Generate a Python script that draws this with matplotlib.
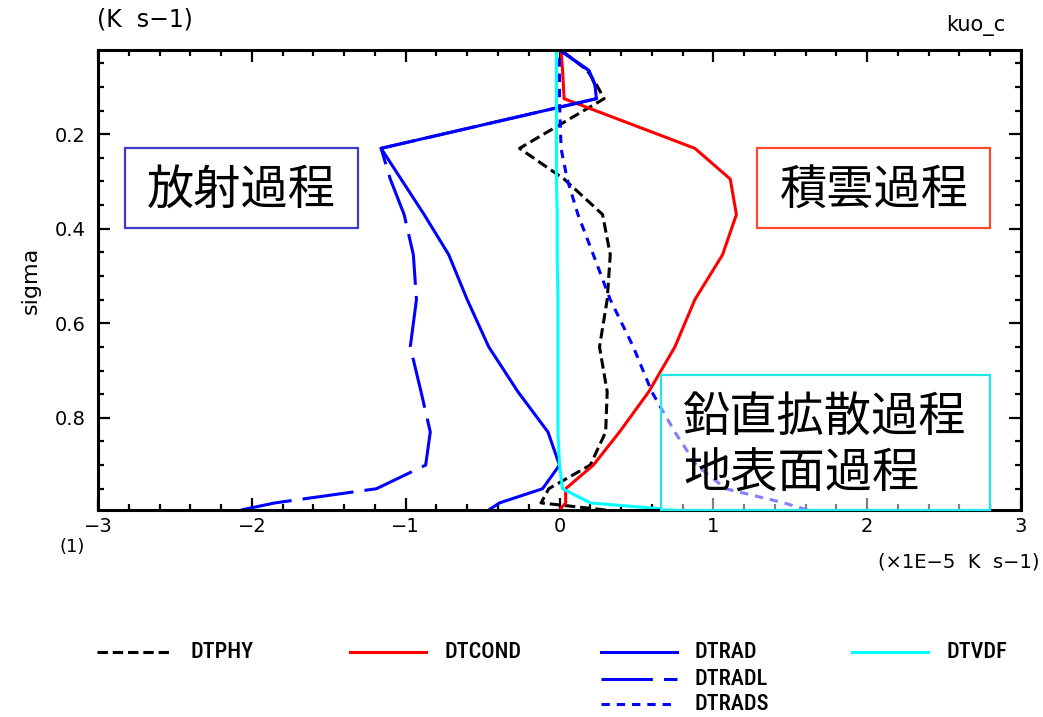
import matplotlib

matplotlib.use("Agg")

import matplotlib.pyplot as plt
from matplotlib.lines import Line2D
from matplotlib.patches import Rectangle
from matplotlib.ticker import MultipleLocator

# sigma levels, surface to top
sigma = [0.995, 0.98, 0.95, 0.90, 0.83, 0.745, 0.65, 0.55, 0.455, 0.37,
         0.295, 0.23, 0.125, 0.095, 0.065, 0.022]

# heating rates (x1E-5 K s-1)
dtphy = [0.30, -0.12, -0.07, 0.20, 0.30, 0.31, 0.26, 0.31, 0.33, 0.28,
         0.03, -0.26, 0.29, 0.24, 0.18, 0.01]
dtcond = [0.00, 0.04, 0.04, 0.22, 0.39, 0.58, 0.75, 0.88, 1.06, 1.15,
          1.11, 0.88, 0.03, 0.025, 0.02, 0.01]
dtrad = [-0.46, -0.39, -0.11, 0.00, -0.075, -0.27, -0.46, -0.60, -0.72, -0.88,
         -1.03, -1.16, 0.24, 0.23, 0.19, 0.00]
dtvdf = [0.75, 0.20, 0.02, 0.00, -0.01, -0.01, -0.01, -0.01, -0.015, -0.015,
         -0.02, -0.02, -0.02, -0.02, -0.02, -0.02]
dtradl = [-2.07, -1.85, -1.19, -0.87, -0.84, -0.90, -0.97, -0.93, -0.95, -1.01,
          -1.10, -1.16, 0.24, 0.23, 0.19, 0.00]
dtrads = [1.61, 1.46, 1.08, 0.89, 0.75, 0.60, 0.48, 0.33, 0.22, 0.12,
          0.05, 0.01, 0.0, 0.0, 0.0, 0.0]

names = ["DTPHY", "DTCOND", "DTRAD", "DTVDF", "DTRADL", "DTRADS"]
series = [dtphy, dtcond, dtrad, dtvdf, dtradl, dtrads]

plt.rcParams["lines.scale_dashes"] = False
plt.rcParams["font.family"] = ["DejaVu Sans"]

W, H = 1043, 717


def fx(x):
    return x / W


def fy(y):
    return 1 - y / H


styles = {
    "DTPHY": dict(color="black", dashes=(7.5, 3.5)),
    "DTCOND": dict(color="#ff0000"),
    "DTRAD": dict(color="#0000ff"),
    "DTVDF": dict(color="#00ffff"),
    "DTRADL": dict(color="#0000ff", dashes=(37, 8)),
    "DTRADS": dict(color="#0000ff", dashes=(6, 5)),
}
draw_order = ["DTPHY", "DTCOND", "DTRADL", "DTRADS", "DTRAD", "DTVDF"]

fig = plt.figure(figsize=(W / 100, H / 100), dpi=100)
ax = fig.add_axes([fx(98), fy(510), (1021 - 98) / W, (510 - 50) / H])

for name in draw_order:
    vals = series[names.index(name)]
    ax.plot(vals, sigma, lw=2.2, **styles[name])

ax.set_xlim(-3, 3)
ax.set_ylim(0.995, 0.022)
ax.xaxis.set_major_locator(MultipleLocator(1))
ax.xaxis.set_minor_locator(MultipleLocator(0.2))
ax.yaxis.set_minor_locator(MultipleLocator(0.05))
ax.set_yticks([0.2, 0.4, 0.6, 0.8])
ax.tick_params(which="both", direction="in", top=True, right=True, width=1.6)
ax.tick_params(which="major", length=8.5)
ax.tick_params(which="minor", length=4.3)
ax.tick_params(axis="x", labelsize=14, pad=5)
ax.tick_params(axis="y", labelsize=14, pad=9)
for s in ax.spines.values():
    s.set_linewidth(2.2)
ax.set_ylabel("sigma", fontsize=16, labelpad=10)

fig.text(fx(97), fy(20), "(K  s−1)", fontsize=17, va="center", ha="left")
fig.text(fx(1005), fy(25), "kuo_c", fontsize=15, va="center", ha="right")
fig.text(fx(1040), fy(562), "(×1E−5  K  s−1)", fontsize=14, va="center", ha="right")
fig.text(fx(72), fy(547), "(1)", fontsize=13, va="center", ha="center")

# legend keys under the plot
key_cols = {"DTPHY": (97, 652), "DTCOND": (350, 652), "DTRAD": (601, 652),
            "DTVDF": (852, 652), "DTRADL": (601, 679), "DTRADS": (601, 704)}
for name in names:
    x0, y0 = key_cols[name]
    fig.add_artist(Line2D([fx(x0), fx(x0 + 76)], [fy(y0), fy(y0)],
                          transform=fig.transFigure, lw=2.2, **styles[name]))
    fig.text(fx(x0 + 94), fy(y0), name, fontsize=16, va="center", ha="left",
             family=["Roboto Condensed", "Liberation Sans Narrow", "Roboto"],
             fontstretch="condensed", weight="medium")

# process boxes
cjk = ["Noto Sans CJK JP", "DejaVu Sans"]
boxes = [
    (125, 148, 358, 228, "#3c3cc8", 0.0),
    (757, 148, 990, 228, "#ff4a2a", 0.0),
    (661, 375, 990, 510, "#20e8e8", 0.5),
]
for x0, y0, x1, y1, ec, a in boxes:
    fig.add_artist(Rectangle((fx(x0), fy(y1)), fx(x1 - x0), (y1 - y0) / H,
                             transform=fig.transFigure, lw=1.6, ec=ec,
                             fc=(1, 1, 1, a), zorder=5))
fig.text(fx(241), fy(191), "放射過程", fontsize=34, family=cjk,
         ha="center", va="center", zorder=6)
fig.text(fx(874), fy(191), "積雲過程", fontsize=34, family=cjk,
         ha="center", va="center", zorder=6)
fig.text(fx(683), fy(418), "鉛直拡散過程", fontsize=34, family=cjk,
         ha="left", va="center", zorder=6)
fig.text(fx(683), fy(474), "地表面過程", fontsize=34, family=cjk,
         ha="left", va="center", zorder=6)

fig.savefig("out.png", dpi=100)
